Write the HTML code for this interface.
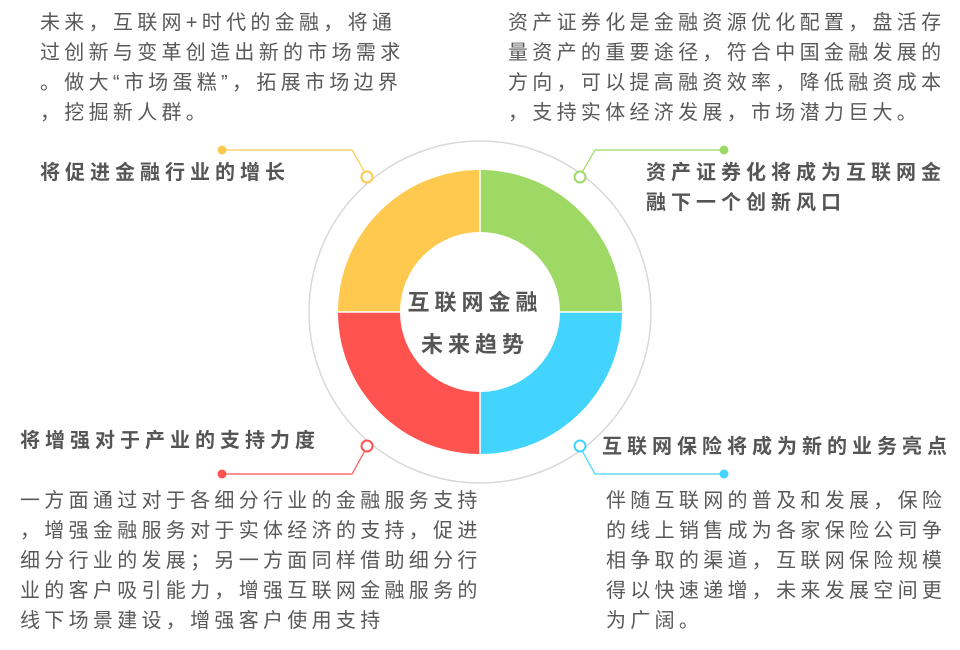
<!DOCTYPE html>
<html><head><meta charset="utf-8"><style>
body{margin:0;width:960px;height:650px;background:#fff;position:relative;overflow:hidden;font-family:"Liberation Sans","Noto Sans CJK SC",sans-serif;color:#595959}
.t{position:absolute;font-size:20px;letter-spacing:4.3px;line-height:30px;white-space:nowrap}
.b{font-weight:bold;color:#555;letter-spacing:5px}
</style></head><body>
<svg width="960" height="650" style="position:absolute;left:0;top:0">
<circle cx="480" cy="312" r="171" fill="none" stroke="#d9d9d9" stroke-width="1.5"/>
<path d="M480 312 L480 170 A142 142 0 0 1 622 312Z" fill="#9ed865"/>
<path d="M480 312 L622 312 A142 142 0 0 1 480 454Z" fill="#42d4fd"/>
<path d="M480 312 L480 454 A142 142 0 0 1 338 312Z" fill="#ff5350"/>
<path d="M480 312 L338 312 A142 142 0 0 1 480 170Z" fill="#ffc94f"/>
<line x1="480" y1="168" x2="480" y2="456" stroke="#fff" stroke-width="1.5"/>
<line x1="336" y1="312" x2="624" y2="312" stroke="#fff" stroke-width="1.5"/>
<circle cx="480" cy="312" r="80" fill="#fff"/>
<polyline points="222,150 352,150 367,176" fill="none" stroke="#ffc94f" stroke-width="1.2"/>
<circle cx="222" cy="150" r="4.5" fill="#ffc94f"/>
<circle cx="367" cy="177" r="5.5" fill="#fff" stroke="#ffc94f" stroke-width="2"/>
<polyline points="724,150 595,150 580,176" fill="none" stroke="#9ed865" stroke-width="1.2"/>
<circle cx="724" cy="150" r="4.5" fill="#9ed865"/>
<circle cx="580" cy="177" r="5.5" fill="#fff" stroke="#9ed865" stroke-width="2"/>
<polyline points="222,474 352,474 367,447" fill="none" stroke="#ff5350" stroke-width="1.2"/>
<circle cx="222" cy="474" r="4.5" fill="#ff5350"/>
<circle cx="367" cy="446" r="5.5" fill="#fff" stroke="#ff5350" stroke-width="2"/>
<polyline points="724,474 595,474 580,447" fill="none" stroke="#42d4fd" stroke-width="1.2"/>
<circle cx="724" cy="474" r="4.5" fill="#42d4fd"/>
<circle cx="580" cy="446" r="5.5" fill="#fff" stroke="#42d4fd" stroke-width="2"/>
</svg>
<div class="t b" style="left:405px;top:282px;font-size:22px;letter-spacing:5px;line-height:42px;text-align:center;width:140px">互联网金融<br>未来趋势</div>
<div class="t" style="left:40px;top:8px">未来，互联网+时代的金融，将通<br>过创新与变革创造出新的市场需求<br>。做大“市场蛋糕”，拓展市场边界<br>，挖掘新人群。</div>
<div class="t b" style="left:40px;top:158px">将促进金融行业的增长</div>
<div class="t" style="left:508px;top:8px">资产证券化是金融资源优化配置，盘活存<br>量资产的重要途径，符合中国金融发展的<br>方向，可以提高融资效率，降低融资成本<br>，支持实体经济发展，市场潜力巨大。</div>
<div class="t b" style="left:646px;top:158px">资产证券化将成为互联网金<br>融下一个创新风口</div>
<div class="t b" style="left:20px;top:426px">将增强对于产业的支持力度</div>
<div class="t" style="left:20px;top:486px">一方面通过对于各细分行业的金融服务支持<br>，增强金融服务对于实体经济的支持，促进<br>细分行业的发展；另一方面同样借助细分行<br>业的客户吸引能力，增强互联网金融服务的<br>线下场景建设，增强客户使用支持</div>
<div class="t b" style="left:602px;top:432px">互联网保险将成为新的业务亮点</div>
<div class="t" style="left:606px;top:486px">伴随互联网的普及和发展，保险<br>的线上销售成为各家保险公司争<br>相争取的渠道，互联网保险规模<br>得以快速递增，未来发展空间更<br>为广阔。</div>
</body></html>
